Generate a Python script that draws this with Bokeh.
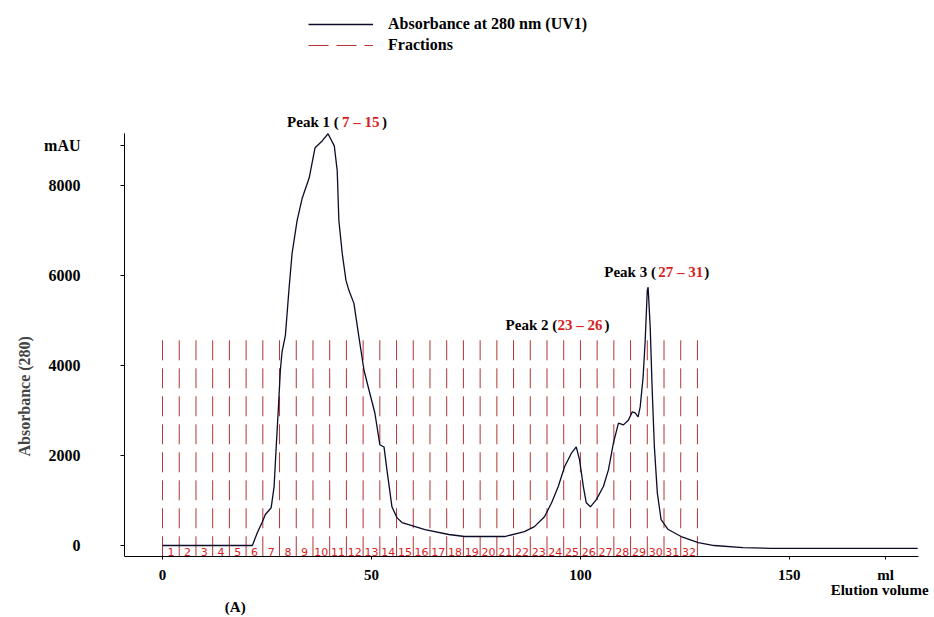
from bokeh.plotting import figure
from bokeh.models import (Range1d, FixedTicker, Label, Legend, LegendItem, ColumnDataSource,
                          LinearAxis, Title)
from bokeh.core.properties import value
from bokeh.embed import file_html
from bokeh.resources import INLINE

# ---------------- data ----------------
volume_ml = [0.0, 21.5, 22.7, 23.9, 24.6, 26.0, 26.7, 27.2, 27.7, 28.2, 28.6, 29.4, 30.3,
             31.0, 32.2, 33.4, 35.1, 36.5, 38.2, 39.6, 41.1, 41.8, 42.2, 43.0, 43.9,
             44.6, 45.8, 47.0, 48.2, 49.4, 50.8, 52.0, 53.0, 53.7, 54.9, 56.1, 57.3,
             58.9, 62.8, 68.5, 72.3, 81.9, 86.6, 89.0, 91.4, 93.1, 94.7, 96.2, 97.9,
             99.0, 99.8, 100.7, 101.4, 102.4, 103.8, 105.5, 106.7, 107.9, 109.1, 110.3,
             111.5, 112.4, 113.1, 113.8, 114.3, 115.0, 115.5, 116.0, 116.2, 116.7, 117.2,
             117.7, 118.4, 119.3, 121.0, 124.1, 128.2, 132.0, 138.9, 145.6, 180.7]
absorbance_mau = [0, 0, 290, 530, 690, 840, 1310, 2190, 3010, 3900, 4300, 4670, 5740,
                  6490, 7220, 7710, 8170, 8840, 8990, 9150, 8880, 8330, 7220, 6490, 5890,
                  5670, 5380, 4630, 3900, 3455, 2950, 2240, 2190, 1680, 860, 620, 510,
                  465, 355, 245, 200, 200, 310, 420, 640, 950, 1310, 1750, 2060,
                  2190, 1900, 1310, 950, 860, 1020, 1310, 1680, 2280, 2720, 2680,
                  2790, 2970, 2945, 2860, 3080, 3740, 4560, 5670, 5740, 4850, 3390,
                  2190, 1170, 575, 355, 200, 65, 0, -45, -65, -65]

fraction_edges = [0, 4, 8, 12, 16, 20, 24, 28, 32, 36, 40, 44, 48, 52, 56, 60, 64,
                  68, 72, 76, 80, 84, 88, 92, 96, 100, 104, 108, 112, 116, 120, 124, 128]
fraction_numbers = ["1", "2", "3", "4", "5", "6", "7", "8", "9", "10", "11", "12",
                    "13", "14", "15", "16", "17", "18", "19", "20", "21", "22", "23",
                    "24", "25", "26", "27", "28", "29", "30", "31", "32"]
fraction_top = 4560

peak_names = ["Peak 1 (", "Peak 2 (", "Peak 3 ("]
peak_ranges = ["7 \u2013 15", "23 \u2013 26", "27 \u2013 31"]
peak_closers = [" )", ")", ")"]

legend_labels = ["Absorbance at 280 nm (UV1)", "Fractions"]

x_ticks = [0, 50, 100, 150, 173]
x_tick_labels = {173: "ml"}
y_ticks = [0, 2000, 4000, 6000, 8000, 8880]
y_tick_labels = {8880: "mAU"}
x_title = "Elution volume"
y_title = "Absorbance (280)"
panel_tag = "(A)"

# ---------------- styles / layout ----------------
SERIF = "Liberation Serif"
RED_TEXT = "#d81e1e"
FRAC_COLOR = "#b23434"
LINE_COLOR = "#0c0c2a"
Y0, Y_AXIS_TOP, Y_TOP = -244, 9150, 12110

p = figure(width=934, height=617, output_backend="svg", toolbar_location=None,
           x_range=Range1d(-9.1, 180.9), y_range=Range1d(Y0, Y_TOP),
           min_border_left=124, min_border_right=16, min_border_top=0,
           min_border_bottom=60)
p.outline_line_color = None
p.xgrid.visible = False
p.ygrid.visible = False

# fractions
centers = [(fraction_edges[i] + fraction_edges[i + 1]) / 2 for i in range(len(fraction_numbers))]
seg_src = ColumnDataSource(dict(x=fraction_edges, y0=[fraction_top] * len(fraction_edges),
                                y1=[Y0] * len(fraction_edges)))
frac_r = p.segment(x0="x", y0="y0", x1="x", y1="y1", source=seg_src,
                   line_color=FRAC_COLOR, line_width=1, line_dash="20 8")
num_src = ColumnDataSource(dict(x=centers, y=[-140] * len(centers), t=fraction_numbers))
p.text(x="x", y="y", text="t", source=num_src, text_font=value("DejaVu Sans"),
       text_font_size="11px", text_color=RED_TEXT, text_align="center",
       text_baseline="middle")

# chromatogram
line_r = p.line(volume_ml, absorbance_mau, line_color=LINE_COLOR, line_width=1.3)

# axes
p.xaxis.ticker = FixedTicker(ticks=x_ticks)
p.xaxis.major_label_overrides = x_tick_labels
p.yaxis.ticker = FixedTicker(ticks=y_ticks)
p.yaxis.major_label_overrides = y_tick_labels
p.yaxis.bounds = (Y0, Y_AXIS_TOP)
for ax in (p.xaxis[0], p.yaxis[0]):
    ax.axis_line_color = "black"
    ax.major_tick_line_color = "black"
    ax.minor_tick_line_color = None
    ax.major_tick_in = 0
    ax.major_label_text_font = SERIF
    ax.major_label_text_font_style = "bold"
    ax.major_label_text_color = "black"
p.xaxis.major_tick_out = 3
p.xaxis.major_label_standoff = 7
p.xaxis.major_label_text_font_size = "15px"
p.yaxis.major_tick_out = 4
p.yaxis.major_label_standoff = 40
p.yaxis.major_label_text_font_size = "16px"


def text_row_axis(tick, text, standoff):
    ax = LinearAxis(ticker=FixedTicker(ticks=[tick]),
                    major_label_overrides={tick: text},
                    axis_line_color=None, major_tick_line_color=None,
                    minor_tick_line_color=None, major_tick_out=0, major_tick_in=0,
                    major_label_standoff=standoff, major_label_text_font=SERIF,
                    major_label_text_font_style="bold",
                    major_label_text_font_size="15px",
                    major_label_text_color="black")
    p.add_layout(ax, "below")


text_row_axis(171.6, x_title, -4)   # second text row under the x axis
text_row_axis(17.4, panel_tag, -2)  # third text row

p.add_layout(Title(text=y_title, align="left", offset=100, text_font=SERIF,
                   text_font_style="bold", text_font_size="16px", standoff=18), "left")


def add_label(x, y, text, color="black", x_offset=0):
    p.add_layout(Label(x=x, y=y, text=text, text_font=SERIF, text_font_style="bold",
                       text_font_size="15px", text_color=color, text_align="left",
                       text_baseline="middle", x_offset=x_offset))


peak_x = [29.8, 82.1, 105.7]
peak_y = [9414, 4895, 6069]
red_offsets = [55, 52, 54]
close_offsets = [95, 99, 100]
for i in range(3):
    add_label(peak_x[i], peak_y[i], peak_names[i])
    add_label(peak_x[i], peak_y[i], peak_ranges[i], color=RED_TEXT, x_offset=red_offsets[i])
    add_label(peak_x[i], peak_y[i], peak_closers[i], x_offset=close_offsets[i])

legend = Legend(items=[LegendItem(label=legend_labels[0], renderers=[line_r]),
                       LegendItem(label=legend_labels[1], renderers=[frac_r])],
                location=(179, 497), orientation="vertical",
                glyph_width=65, glyph_height=18, label_standoff=15, spacing=3,
                padding=5, margin=0, border_line_alpha=0, background_fill_alpha=0,
                label_text_font=SERIF, label_text_font_style="bold",
                label_text_font_size="16px", label_text_color="black")
p.add_layout(legend)

open("out.html", "w").write(file_html(p, INLINE))
